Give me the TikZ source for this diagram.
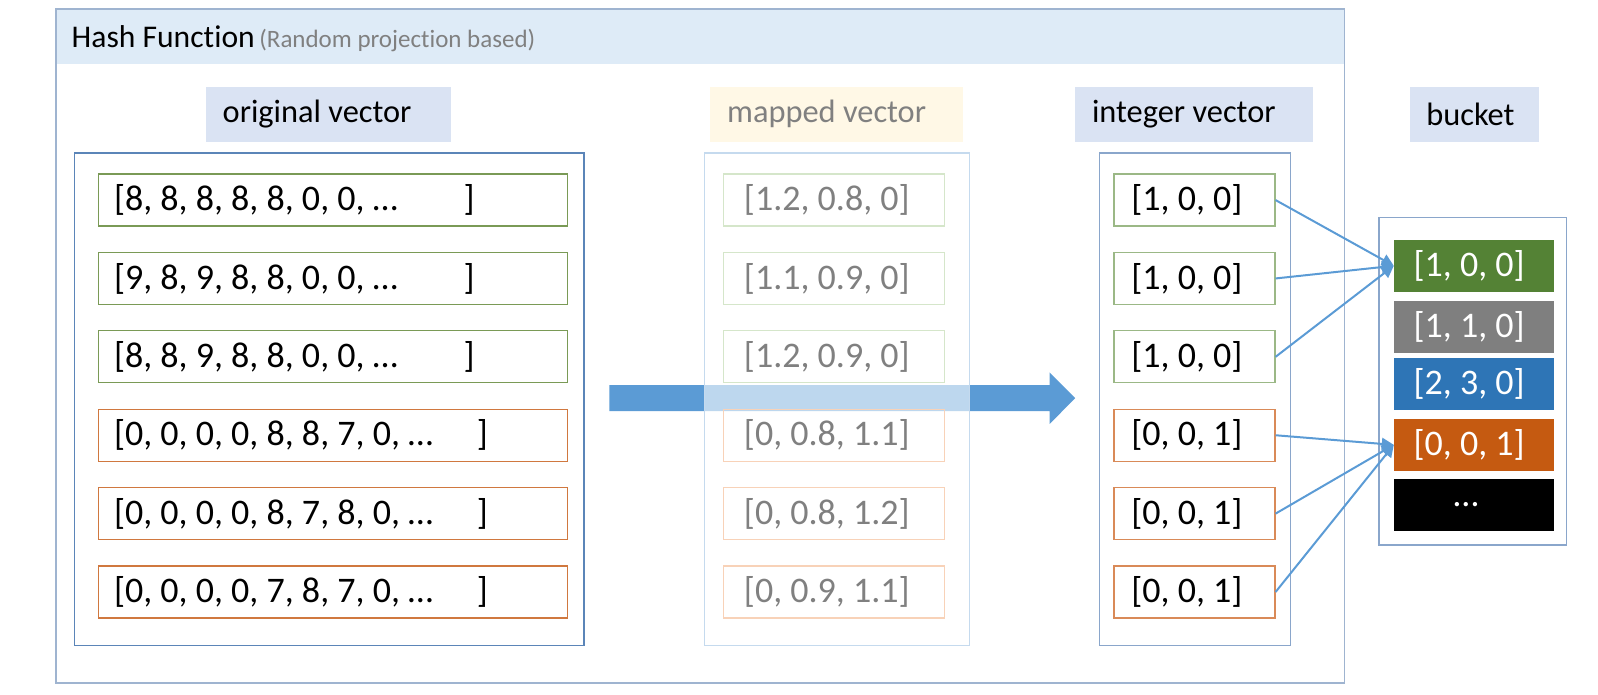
\documentclass[tikz,border=0pt]{standalone}
\usepackage{fontspec}
\setmainfont{Carlito}[Ligatures=NoCommon]
\usetikzlibrary{positioning}
\usetikzlibrary{arrows.meta}
\definecolor{bandblue}{HTML}{DEEBF7}
\definecolor{labblue}{HTML}{DAE3F3}
\definecolor{labcream}{HTML}{FFF8E6}
\definecolor{outerline}{HTML}{9FB4D0}
\definecolor{origline}{HTML}{5B85B8}
\definecolor{boxline}{HTML}{8AA6CB}
\definecolor{mapline}{HTML}{C5DAEE}
\definecolor{ogreen}{HTML}{7A9A56}
\definecolor{oorange}{HTML}{D0783F}
\definecolor{igreen}{HTML}{9BB886}
\definecolor{iorange}{HTML}{D98A58}
\definecolor{mgreen}{HTML}{D5E6CA}
\definecolor{morange}{HTML}{F8D2B8}
\definecolor{txtgray}{HTML}{808080}
\definecolor{flowblue}{HTML}{5B9BD5}
\definecolor{bgreen}{HTML}{548235}
\definecolor{bgray}{HTML}{7F7F7F}
\definecolor{bblue}{HTML}{2E75B6}
\definecolor{borange}{HTML}{C55A11}
\newcommand{\vfont}{\fontsize{18}{21}\selectfont}
\newcommand{\lfont}{\fontsize{16.2}{19}\selectfont}
\newcommand{\gvec}[1]{\makebox[174.8pt][l]{#1}]}
\newcommand{\ovec}[1]{\makebox[181.4pt][l]{#1}]}

\begin{document}
\begin{tikzpicture}[x=0.5096pt,y=-0.5096pt,node distance=39.2pt,on grid,>={Triangle[length=6pt,width=6pt]},
		lab/.style={rectangle,fill=#1,minimum height=27.5pt,inner xsep=8.4pt,align=flush left,font=\lfont},
		origrow/.style={rectangle,draw=#1,line width=0.6pt,minimum height=26pt,inner xsep=7.6pt,text width=219pt,align=flush left,font=\vfont},
		maprow/.style={rectangle,draw=#1,line width=0.6pt,minimum height=26pt,inner xsep=10.2pt,text width=90.2pt,align=flush left,font=\vfont,text=txtgray},
		introw/.style={rectangle,draw=#1,line width=0.6pt,minimum height=26pt,inner xsep=8.7pt,text width=63.1pt,align=flush left,font=\vfont},
		cell/.style={rectangle,fill=#1,minimum height=26pt,inner xsep=9.7pt,text width=60.6pt,align=flush left,font=\vfont,text=white}]
		\useasboundingbox (0,0) rectangle (1568,681);
		
		% hash function frame
		\fill[bandblue] (55,9) rectangle (1319,63);
		\draw[outerline,line width=0.7pt] (55,9) rectangle (1319,670);
		\node[anchor=base west,inner sep=0] (title) at (70,47)
			{{\fontsize{15.8}{19}\selectfont Hash Function} {\color{txtgray}\fontsize{12.5}{15}\selectfont (Random projection based)}};
		
		% column labels
		\node[lab=labblue,text width=106pt]   (lorig)   at (322.5,112)  {original vector};
		\node[lab=labcream,text width=109.6pt,text=txtgray] (lmap) at (821,112) {mapped vector};
		\node[lab=labblue,text width=101.9pt] (lint)    at (1171.5,112) {integer vector};
		\node[lab=labblue,text width=47.9pt]  (lbucket) at (1446.5,112) {bucket};
		
		% original vectors
		\draw[origline,line width=0.7pt] (73,150) rectangle (573,633.5);
		\node[origrow=ogreen]  (o1) at (326.75,196.3) {\gvec{[8, 8, 8, 8, 8, 0, 0, …}};
		\node[origrow=ogreen]  (o2) [below=of o1] {\gvec{[9, 8, 9, 8, 8, 0, 0, …}};
		\node[origrow=ogreen]  (o3) [below=of o2] {\gvec{[8, 8, 9, 8, 8, 0, 0, …}};
		\node[origrow=oorange] (o4) [below=of o3] {\ovec{[0, 0, 0, 0, 8, 8, 7, 0, …}};
		\node[origrow=oorange] (o5) [below=of o4] {\ovec{[0, 0, 0, 0, 8, 7, 8, 0, …}};
		\node[origrow=oorange] (o6) [below=of o5] {\ovec{[0, 0, 0, 0, 7, 8, 7, 0, …}};
		
		% projection arrow
		\fill[flowblue] (598,378) -- (1030,378) -- (1030,365.5) -- (1055,390.7)
			-- (1030,415.9) -- (1030,403.4) -- (598,403.4) -- cycle;
		
		% mapped vectors
		\draw[mapline,line width=0.7pt,fill=white,fill opacity=0.6] (691,150) rectangle (951.5,633.5);
		\node[maprow=mgreen]  (m1) at (818.5,196.3) {[1.2, 0.8, 0]};
		\node[maprow=mgreen]  (m2) [below=of m1] {[1.1, 0.9, 0]};
		\node[maprow=mgreen]  (m3) [below=of m2] {[1.2, 0.9, 0]};
		\node[maprow=morange] (m4) [below=of m3] {[0, 0.8, 1.1]};
		\node[maprow=morange] (m5) [below=of m4] {[0, 0.8, 1.2]};
		\node[maprow=morange] (m6) [below=of m5] {[0, 0.9, 1.1]};
		
		% integer vectors
		\draw[boxline,line width=0.7pt] (1079,150) rectangle (1266.5,633.5);
		\node[introw=igreen]  (i1) at (1172,196.3) {[1, 0, 0]};
		\node[introw=igreen]  (i2) [below=of i1] {[1, 0, 0]};
		\node[introw=igreen]  (i3) [below=of i2] {[1, 0, 0]};
		\node[introw=iorange] (i4) [below=of i3] {[0, 0, 1]};
		\node[introw=iorange] (i5) [below=of i4] {[0, 0, 1]};
		\node[introw=iorange] (i6) [below=of i5] {[0, 0, 1]};
		
		% buckets
		\draw[boxline,line width=0.7pt] (1353,213.6) rectangle (1537,534.8);
		\node[cell=bgreen]  (c1) at (1446.5,260.8) {[1, 0, 0]};
		\node[cell=bgray]   (c2) at (1446.5,320.7) {[1, 1, 0]};
		\node[cell=bblue]   (c3) at (1446.5,376.8) {[2, 3, 0]};
		\node[cell=borange] (c4) at (1446.5,436.5) {[0, 0, 1]};
		\node[cell=black]   (c5) at (1446.5,495.4) {\hspace*{20pt}…};
		
		\path[->,flowblue,line width=1pt]
		(i1.east) edge (c1.west)
		(i2.east) edge (c1.west)
		(i3.east) edge (c1.west)
		(i4.east) edge (c4.west)
		(i5.east) edge (c4.west)
		(i6.east) edge (c4.west);
\end{tikzpicture}
\end{document}
